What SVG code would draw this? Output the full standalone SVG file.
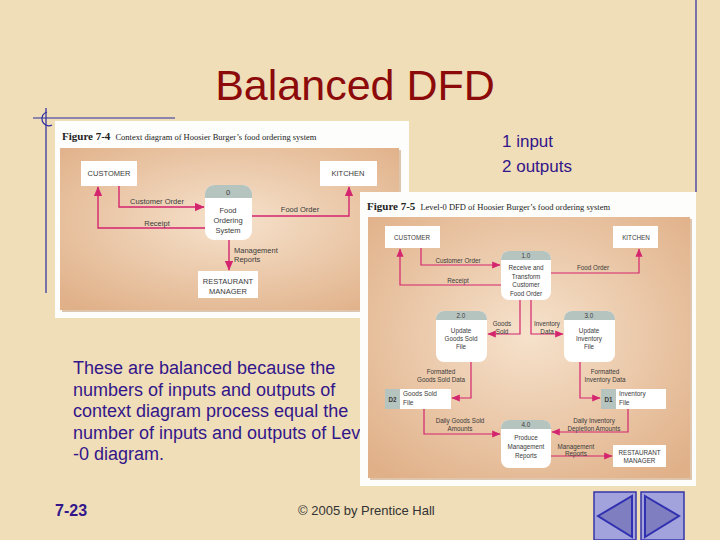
<svg xmlns="http://www.w3.org/2000/svg" width="720" height="540" viewBox="0 0 720 540">
<defs>
<style>
.slide{font-family:"Liberation Sans",Arial,sans-serif;fill:#33168a}
.title{font-family:"Liberation Sans",Arial,sans-serif;font-size:43px;fill:#8c0a0a}
.cap{font-family:"Liberation Serif","Times New Roman",serif;fill:#222}
.capb{font-weight:bold;font-size:11px}
.capn{font-size:8.5px}
.box{fill:#ffffff;stroke:none}
.proc{fill:#ffffff}
.hdr{fill:#b6c4bf}
.lt{font-family:"Liberation Sans",Arial,sans-serif;font-size:7.5px;fill:#3a3a3a;text-anchor:middle}
.ls{font-family:"Liberation Sans",Arial,sans-serif;font-size:7.5px;fill:#3a3a3a;text-anchor:start}
.rt{font-family:"Liberation Sans",Arial,sans-serif;font-size:6.3px;fill:#3a3a3a;text-anchor:middle}
.rs{font-family:"Liberation Sans",Arial,sans-serif;font-size:6.5px;fill:#3a3a3a;text-anchor:start}
.flow{fill:none;stroke:#d4256f;stroke-width:1.4;marker-end:url(#ah)}
.flow2{fill:none;stroke:#d4256f;stroke-width:1.2;marker-end:url(#ah)}
.guide{stroke:#2b2ba0;stroke-width:1.2;fill:none}
</style>
<marker id="ah" markerWidth="7" markerHeight="6" refX="6.5" refY="3" orient="auto" markerUnits="strokeWidth">
<path d="M0,0 L7,3 L0,6 z" fill="#d4256f"/>
</marker>
<radialGradient id="tan" cx="0.5" cy="0.45" r="0.7">
<stop offset="0" stop-color="#f6e2cc"/>
<stop offset="1" stop-color="#e0b088"/>
</radialGradient>
</defs>

<rect x="0" y="0" width="720" height="540" fill="#efdeb8"/>

<!-- slide guide lines -->
<g id="guides">
<line class="guide" x1="33" y1="118" x2="175" y2="118"/>
<line class="guide" x1="46" y1="108" x2="46" y2="293"/>
<path class="guide" d="M47,112 A7,7 0 1,0 52,125"/>
<line class="guide" x1="696" y1="0" x2="696" y2="192"/>
</g>

<text class="title" x="355" y="100" text-anchor="middle">Balanced DFD</text>

<!-- Figure 7-4 -->
<g id="figure-7-4">
<rect x="55" y="121" width="354" height="197" fill="#fdfdfb"/>
<text class="cap" x="62" y="140"><tspan class="capb">Figure 7-4</tspan><tspan class="capn" dx="5">Context diagram of Hoosier Burger’s food ordering system</tspan></text>
<rect x="62" y="150" width="339" height="162" fill="#c9a07c" opacity="0.6"/>
<rect x="60" y="148" width="339" height="162" fill="url(#tan)"/>
</g>

<g id="ctx-connectors">
<path class="flow" d="M119,186 V207 H204"/>
<path class="flow" d="M205,228 H98 V187"/>
<path class="flow" d="M252,216 H349 V187"/>
<path class="flow" d="M229,240 V270"/>
<text class="lt" x="157" y="204">Customer Order</text>
<text class="lt" x="157" y="226">Receipt</text>
<text class="lt" x="300" y="212">Food Order</text>
<text class="ls" x="234" y="253">Management</text>
<text class="ls" x="234" y="262">Reports</text>
</g>

<g id="ctx-customer">
<rect class="box" x="81" y="161" width="56" height="25"/>
<text class="lt" x="109" y="176">CUSTOMER</text>
</g>
<g id="ctx-kitchen">
<rect class="box" x="320" y="161" width="57" height="25"/>
<text class="lt" x="348" y="176">KITCHEN</text>
</g>
<g id="ctx-process-0">
<rect class="proc" x="205" y="185" width="47" height="55" rx="9"/>
<path class="hdr" d="M214,185 H243 A9,9 0 0 1 252,194 V198 H205 V194 A9,9 0 0 1 214,185 z"/>
<text class="lt" x="228" y="195">0</text>
<text class="lt" x="228" y="213">Food</text>
<text class="lt" x="228" y="223">Ordering</text>
<text class="lt" x="228" y="233">System</text>
</g>
<g id="ctx-manager">
<rect class="box" x="198" y="271" width="60" height="27"/>
<text class="lt" x="228" y="284">RESTAURANT</text>
<text class="lt" x="228" y="294">MANAGER</text>
</g>

<!-- body text -->
<g id="body-text" class="slide" font-size="18">
<text x="73" y="374">These are balanced because the</text>
<text x="73" y="396">numbers of inputs and outputs of</text>
<text x="73" y="417">context diagram process equal the</text>
<text x="73" y="439">number of inputs and outputs of Lev</text>
<text x="73" y="460">-0 diagram.</text>
</g>

<g id="io-note" class="slide" font-size="17">
<text x="502" y="147">1 input</text>
<text x="502" y="172">2 outputs</text>
</g>

<!-- Figure 7-5 -->
<g id="figure-7-5">
<rect x="360" y="192" width="336" height="294" fill="#fdfdfb"/>
<text class="cap" x="367" y="210"><tspan class="capb">Figure 7-5</tspan><tspan class="capn" dx="5">Level-0 DFD of Hoosier Burger’s food ordering system</tspan></text>
<rect x="370" y="219" width="322" height="261" fill="#c9a07c" opacity="0.6"/>
<rect x="368" y="217" width="322" height="261" fill="url(#tan)"/>
</g>

<g id="l0-connectors">
<path class="flow2" d="M421,248 V265 H500"/>
<path class="flow2" d="M501,285 H400 V249"/>
<path class="flow2" d="M551,273 H639 V249"/>
<path class="flow2" d="M520,300 V334 H488"/>
<path class="flow2" d="M531,300 V334 H563"/>
<path class="flow2" d="M471,362 V398 H452"/>
<path class="flow2" d="M580,362 V398 H600"/>
<path class="flow2" d="M424,409 V434 H500"/>
<path class="flow2" d="M628,409 V432 H552"/>
<path class="flow2" d="M551,456 H612"/>
<text class="rt" x="458" y="263">Customer Order</text>
<text class="rt" x="458" y="283">Receipt</text>
<text class="rt" x="593" y="270">Food Order</text>
<text class="rt" x="502" y="326">Goods</text>
<text class="rt" x="502" y="334">Sold</text>
<text class="rt" x="547" y="326">Inventory</text>
<text class="rt" x="547" y="334">Data</text>
<text class="rt" x="441" y="374">Formatted</text>
<text class="rt" x="441" y="382">Goods Sold Data</text>
<text class="rt" x="605" y="374">Formatted</text>
<text class="rt" x="605" y="382">Inventory Data</text>
<text class="rt" x="460" y="423">Daily Goods Sold</text>
<text class="rt" x="460" y="431">Amounts</text>
<text class="rt" x="594" y="423">Daily Inventory</text>
<text class="rt" x="594" y="431">Depletion Amounts</text>
<text class="rt" x="576" y="449">Management</text>
<text class="rt" x="576" y="456">Reports</text>
</g>

<g id="l0-customer">
<rect class="box" x="385" y="226" width="55" height="22"/>
<text class="rt" x="412" y="240">CUSTOMER</text>
</g>
<g id="l0-kitchen">
<rect class="box" x="613" y="226" width="45" height="22"/>
<text class="rt" x="636" y="240">KITCHEN</text>
</g>
<g id="l0-process-1">
<rect class="proc" x="501" y="251" width="50" height="49" rx="8"/>
<path class="hdr" d="M509,251 H543 A8,8 0 0 1 551,259 V260 H501 V259 A8,8 0 0 1 509,251 z"/>
<text class="rt" x="526" y="258">1.0</text>
<text class="rt" x="526" y="270">Receive and</text>
<text class="rt" x="526" y="279">Transform</text>
<text class="rt" x="526" y="287">Customer</text>
<text class="rt" x="526" y="296">Food Order</text>
</g>
<g id="l0-process-2">
<rect class="proc" x="436" y="311" width="51" height="51" rx="8"/>
<path class="hdr" d="M444,311 H479 A8,8 0 0 1 487,319 V320 H436 V319 A8,8 0 0 1 444,311 z"/>
<text class="rt" x="461" y="318">2.0</text>
<text class="rt" x="461" y="333">Update</text>
<text class="rt" x="461" y="341">Goods Sold</text>
<text class="rt" x="461" y="349">File</text>
</g>
<g id="l0-process-3">
<rect class="proc" x="564" y="311" width="51" height="51" rx="8"/>
<path class="hdr" d="M572,311 H607 A8,8 0 0 1 615,319 V320 H564 V319 A8,8 0 0 1 572,311 z"/>
<text class="rt" x="589" y="318">3.0</text>
<text class="rt" x="589" y="333">Update</text>
<text class="rt" x="589" y="341">Inventory</text>
<text class="rt" x="589" y="349">File</text>
</g>
<g id="l0-store-d2">
<rect class="box" x="385" y="389" width="66" height="20"/>
<rect class="hdr" x="385" y="389" width="15" height="20"/>
<text class="rt" x="392.5" y="402" font-weight="bold">D2</text>
<text class="rs" x="403" y="396">Goods Sold</text>
<text class="rs" x="403" y="405">File</text>
</g>
<g id="l0-store-d1">
<rect class="box" x="601" y="389" width="65" height="20"/>
<rect class="hdr" x="601" y="389" width="15" height="20"/>
<text class="rt" x="608.5" y="402" font-weight="bold">D1</text>
<text class="rs" x="619" y="396">Inventory</text>
<text class="rs" x="619" y="405">File</text>
</g>
<g id="l0-process-4">
<rect class="proc" x="501" y="420" width="50" height="48" rx="8"/>
<path class="hdr" d="M509,420 H543 A8,8 0 0 1 551,428 V429 H501 V428 A8,8 0 0 1 509,420 z"/>
<text class="rt" x="526" y="427">4.0</text>
<text class="rt" x="526" y="440">Produce</text>
<text class="rt" x="526" y="449">Management</text>
<text class="rt" x="526" y="458">Reports</text>
</g>
<g id="l0-manager">
<rect class="box" x="613" y="445" width="53" height="22"/>
<text class="rt" x="639.5" y="455">RESTAURANT</text>
<text class="rt" x="639.5" y="463">MANAGER</text>
</g>

<!-- footer -->
<text class="slide" x="55" y="516" font-size="16" font-weight="bold">7-23</text>
<text x="298" y="515" font-family="'Liberation Sans',Arial,sans-serif" font-size="13" fill="#333333">© 2005 by Prentice Hall</text>

<g id="nav-prev">
<rect x="594" y="492" width="42" height="48" fill="#a2a2dc" stroke="#3434a8" stroke-width="1.5"/>
<polygon points="598,516 632,496 632,537" fill="#7e7ec0" stroke="#3030b0" stroke-width="2"/>
</g>
<g id="nav-next">
<rect x="641" y="492" width="43" height="48" fill="#a2a2dc" stroke="#3434a8" stroke-width="1.5"/>
<polygon points="645,496 679,516 645,537" fill="#7e7ec0" stroke="#3030b0" stroke-width="2"/>
</g>
</svg>
